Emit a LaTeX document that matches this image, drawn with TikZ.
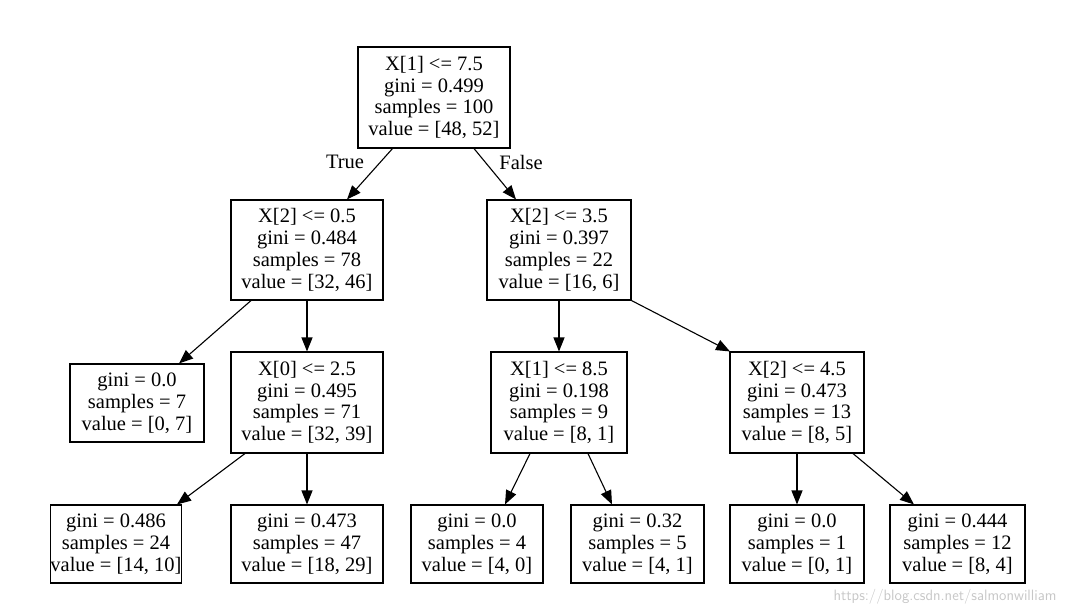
\documentclass[tikz,border=0pt]{standalone}
\usepackage{fontspec}
\setmainfont{Liberation Serif}
\usetikzlibrary{arrows.meta}
\begin{document}
\begin{tikzpicture}[x=1pt,y=-1pt,
  box/.style={draw,line width=1.1pt,align=center,font=\fontsize{20.5}{21.8}\selectfont,inner sep=0pt},
  edge/.style={-{Triangle[length=14pt,width=11pt]},line width=1.1pt}]
\useasboundingbox (0,0) rectangle (1066,614);
\node[box,minimum width=152,minimum height=101] (r) at (434,97.5) {X[1] <= 7.5\\gini = 0.499\\samples = 100\\value = [48, 52]};
\node[box,minimum width=152,minimum height=100] (a) at (307,250) {X[2] <= 0.5\\gini = 0.484\\samples = 78\\value = [32, 46]};
\node[box,minimum width=144,minimum height=100] (b) at (559,250) {X[2] <= 3.5\\gini = 0.397\\samples = 22\\value = [16, 6]};
\node[box,minimum width=134,minimum height=78] (c) at (137,403) {gini = 0.0\\samples = 7\\value = [0, 7]};
\node[box,minimum width=152,minimum height=101] (d) at (307,402.5) {X[0] <= 2.5\\gini = 0.495\\samples = 71\\value = [32, 39]};
\node[box,minimum width=136,minimum height=101] (e) at (559,402.5) {X[1] <= 8.5\\gini = 0.198\\samples = 9\\value = [8, 1]};
\node[box,minimum width=134,minimum height=101] (f) at (797,402.5) {X[2] <= 4.5\\gini = 0.473\\samples = 13\\value = [8, 5]};
\node[box,minimum width=128,minimum height=78] (g) at (116,544) {gini = 0.486\\samples = 24\\value = [14, 10]};
\node[box,minimum width=152,minimum height=78] (h) at (307,544) {gini = 0.473\\samples = 47\\value = [18, 29]};
\node[box,minimum width=132,minimum height=78] (i) at (477,544) {gini = 0.0\\samples = 4\\value = [4, 0]};
\node[box,minimum width=133,minimum height=78] (j) at (637.5,544) {gini = 0.32\\samples = 5\\value = [4, 1]};
\node[box,minimum width=134,minimum height=78] (k) at (797,544) {gini = 0.0\\samples = 1\\value = [0, 1]};
\node[box,minimum width=135,minimum height=78] (l) at (957.5,544) {gini = 0.444\\samples = 12\\value = [8, 4]};
\draw[edge] (393,148) -- (a.north-|347,0);
\draw[edge] (r.south-|474,0) -- (b.north-|516,0);
\draw[edge] (a.south-|251,0) -- (c.north-|179,0);
\draw[edge] (a) -- (d);
\draw[edge] (b) -- (e);
\draw[edge] (b.south east) -- (f.north-|730,0);
\draw[edge] (d.south-|245,0) -- (g.north-|177,0);
\draw[edge] (d) -- (h);
\draw[edge] (e.south-|530,0) -- (i.north-|505,0);
\draw[edge] (e.south-|588,0) -- (j.north-|612,0);
\draw[edge] (f) -- (k);
\draw[edge] (f.south-|853,0) -- (l.north-|914,0);
\node[font=\fontsize{20.5}{22}\selectfont] (t) at (345,162) {True};
\node[font=\fontsize{20.5}{22}\selectfont] (fa) at (521,162) {False};
\node[font=\sffamily\fontsize{15}{16}\selectfont,text=black!22,anchor=east] (w) at (1060,597) {https://blog.csdn.net/salmonwilliam};
\end{tikzpicture}
\end{document}
